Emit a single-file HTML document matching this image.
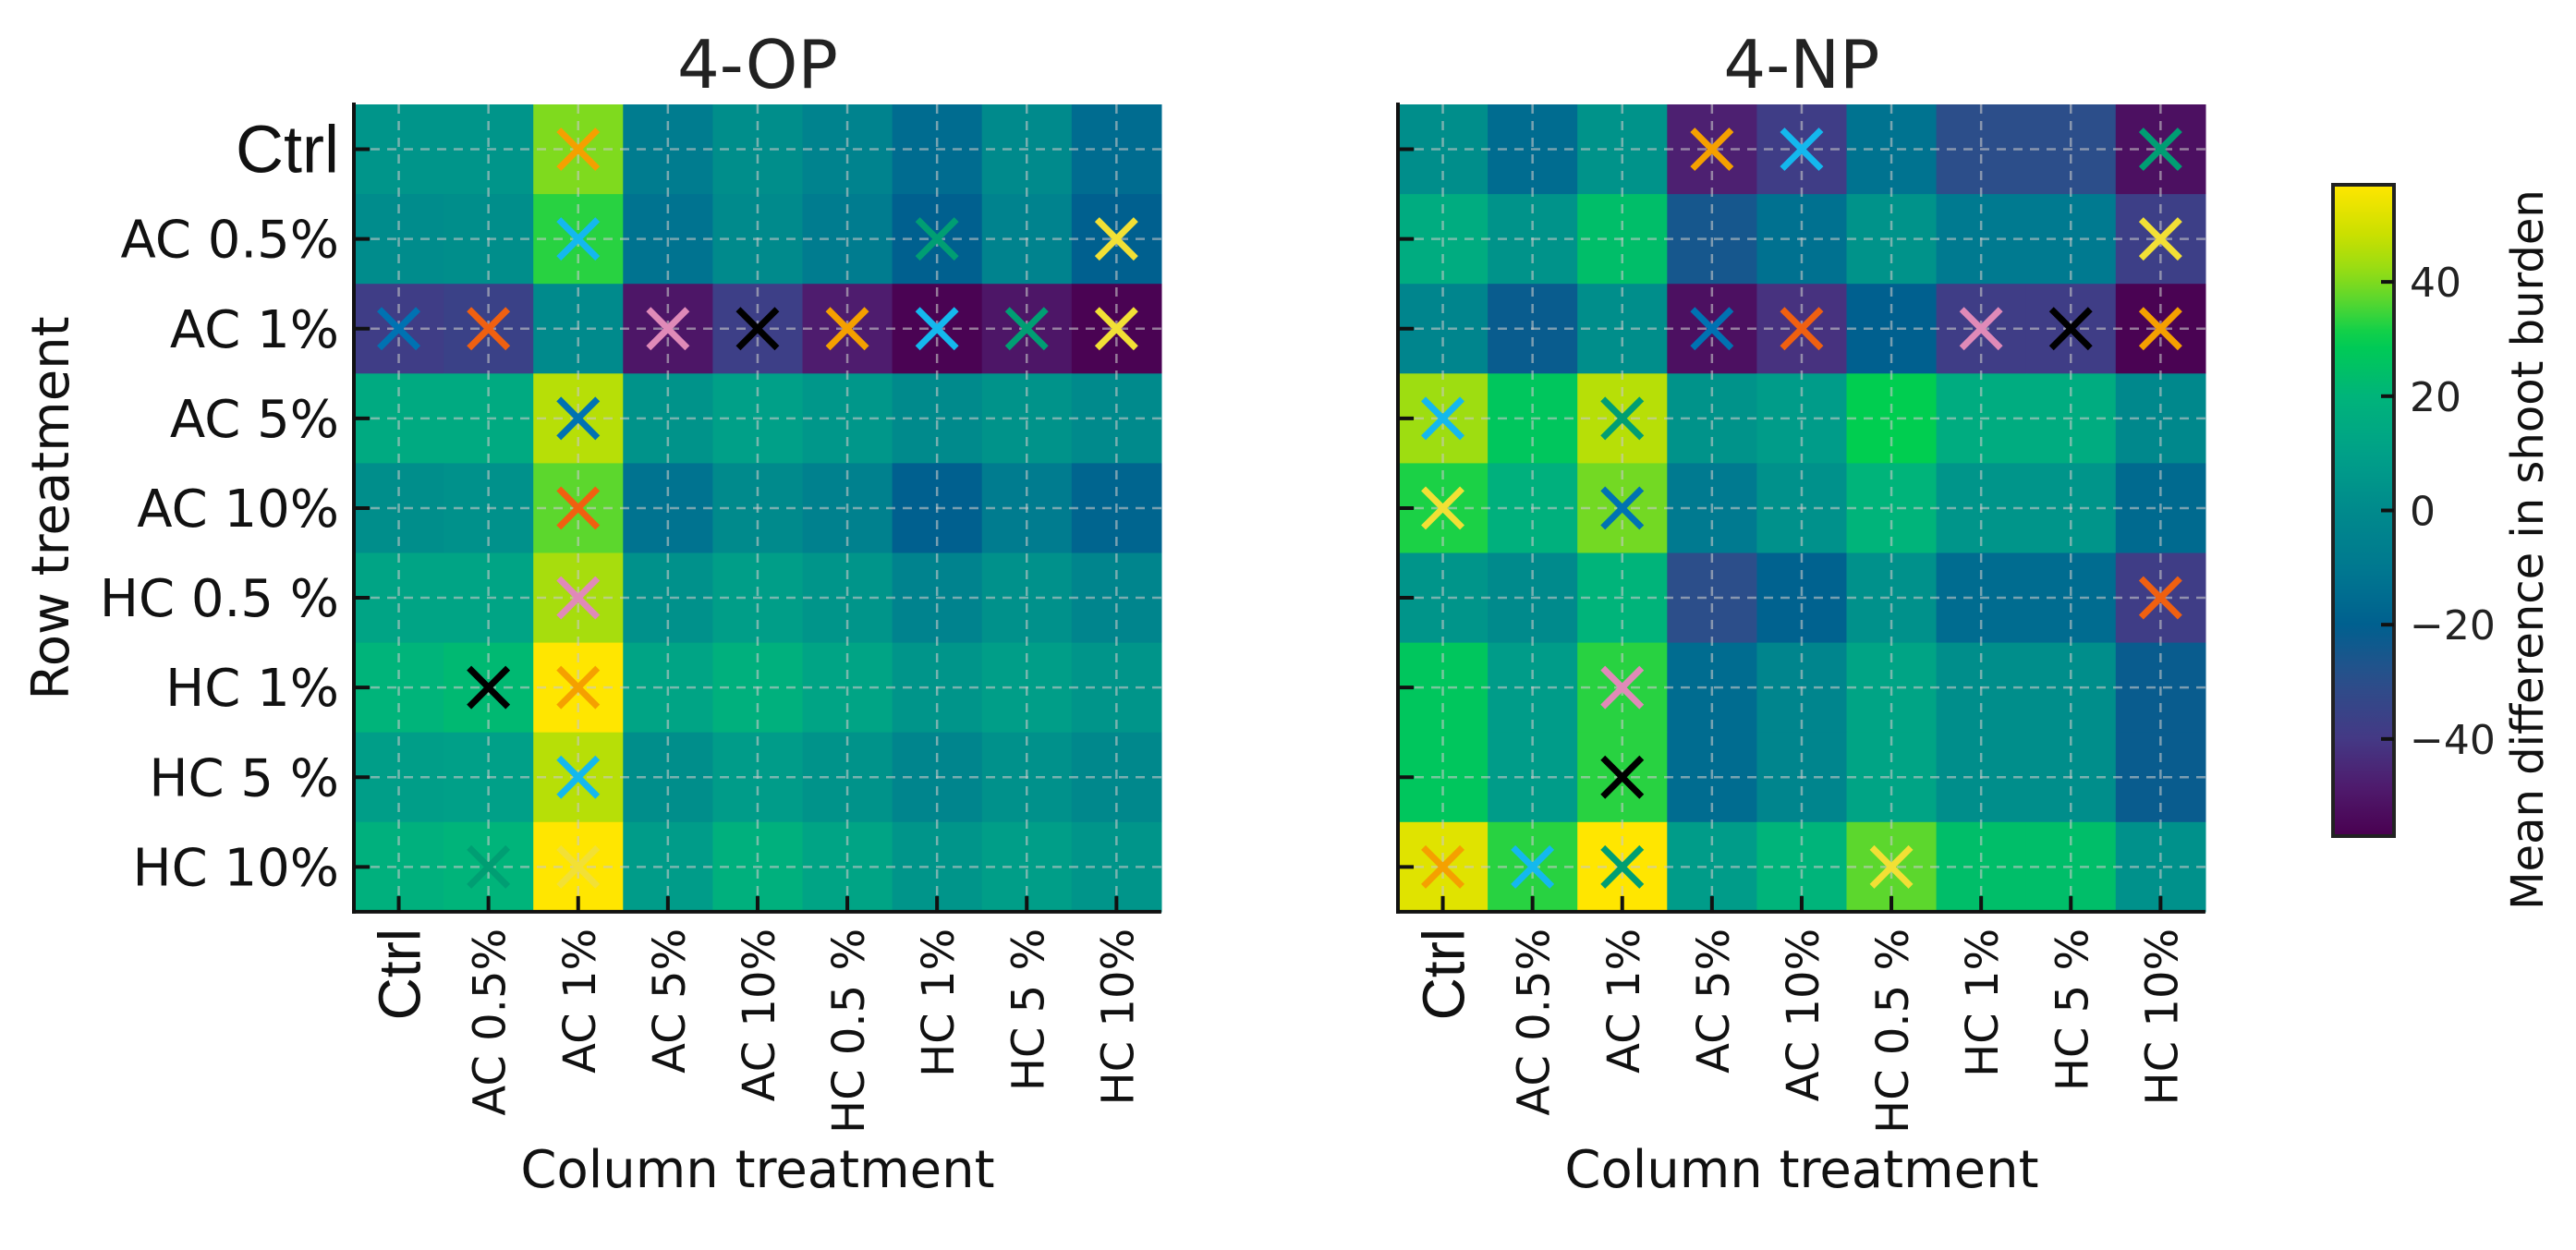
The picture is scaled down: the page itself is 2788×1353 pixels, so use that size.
<!DOCTYPE html>
<html><head><meta charset="utf-8"><style>
html,body{margin:0;padding:0;background:#fff;}
svg{display:block;font-family:"DejaVu Sans","Liberation Sans",sans-serif;}
</style></head><body>
<svg id="fig" width="2788" height="1353" viewBox="0 0 2788 1353" xmlns="http://www.w3.org/2000/svg"></svg>
<script>
const labels = ["Ctrl","AC 0.5%","AC 1%","AC 5%","AC 10%","HC 0.5 %","HC 1%","HC 5 %","HC 10%"];
const xlabels = ["Ctrl","AC 0.5%","AC 1%","AC 5%","AC 10%","HC 0.5 %","HC 1%","HC 5 %","HC 10%"];
const valuesOP = [
 [5,5,40,-8,2,-4,-15,0,-15],
 [1,2,33,-12,0,-8,-20,-4,-20],
 [-38,-36,0,-50,-37,-48,-56,-50,-56],
 [15,15,46,4,10,6,0,4,0],
 [2,3,37,-12,0,-5,-20,-8,-18],
 [12,12,44,3,9,5,-4,3,-3],
 [20,22,57,12,18,12,5,9,5],
 [9,10,46,2,8,4,-3,3,-1],
 [18,20,57,8,18,12,5,9,5]
];
const valuesNP = [
 [2,-15,4,-47,-38,-12,-30,-30,-52],
 [16,4,24,-25,-13,4,-9,-9,-37],
 [-3,-22,2,-52,-42,-20,-38,-38,-56],
 [43,27,46,4,8,30,16,16,-1],
 [32,18,39,-9,3,20,5,5,-16],
 [5,0,20,-30,-19,3,-15,-15,-38],
 [27,8,33,-15,-3,12,2,2,-22],
 [27,8,33,-15,-3,12,2,2,-22],
 [52,33,57,8,20,37,24,24,3]
];
const markersOP = [[0,2,"o"],[1,2,"c"],[1,6,"g"],[1,8,"y"],[2,0,"b"],[2,1,"v"],[2,3,"p"],[2,4,"k"],[2,5,"o"],[2,6,"c"],[2,7,"g"],[2,8,"y"],[3,2,"b"],[4,2,"v"],[5,2,"p"],[6,1,"k"],[6,2,"o"],[7,2,"c"],[8,1,"g"],[8,2,"y"]];
const markersNP = [[0,3,"o"],[0,4,"c"],[0,8,"g"],[1,8,"y"],[2,3,"b"],[2,4,"v"],[2,6,"p"],[2,7,"k"],[2,8,"o"],[3,0,"c"],[3,2,"g"],[4,0,"y"],[4,2,"b"],[5,8,"v"],[6,2,"p"],[7,2,"k"],[8,0,"o"],[8,1,"c"],[8,2,"g"],[8,5,"y"]];
const cbTicks = [40,20,0,-20,-40];
const vmin=-57, vmax=57;

const mcol={o:"#f5a000",c:"#14b8ee",g:"#009e73",y:"#f2e035",b:"#0072b2",v:"#f06010",p:"#e08ab8",k:"#000000"};
const stops=[[-57,[74,0,80]],[-48,[78,28,110]],[-40,[68,57,133]],[-30,[44,78,138]],[-20,[0,96,143]],[-10,[0,120,144]],[0,[0,138,140]],[10,[0,160,136]],[20,[0,180,122]],[30,[0,206,80]],[36,[80,214,50]],[42,[150,220,20]],[48,[200,224,0]],[57,[255,230,0]]];
function cmap(v){
  v=Math.max(vmin,Math.min(vmax,v));
  for(let i=0;i<stops.length-1;i++){
    const a=stops[i],b=stops[i+1];
    if(v<=b[0]){const t=(v-a[0])/(b[0]-a[0]);
      const c=a[1].map((x,j)=>Math.round(x+(b[1][j]-x)*t));
      return `rgb(${c[0]},${c[1]},${c[2]})`;}
  }
  return "rgb(255,230,0)";
}
const NS="http://www.w3.org/2000/svg";
const svg=document.getElementById("fig");
function el(tag,attrs,parent){const e=document.createElementNS(NS,tag);for(const k in attrs)e.setAttribute(k,attrs[k]);(parent||svg).appendChild(e);return e;}

const top0=113, cell=97.1, n=9;
function drawPanel(x0,values,markers,title,showY,key){
  const g=el("g",{});
  
  
  const xs=c=>x0+c*cell, ys=r=>top0+r*cell;
  values.forEach((row,r)=>row.forEach((v,c)=>{
    const rc=el("rect",{x:xs(c),y:ys(r),width:cell+0.6,height:cell+0.6,fill:cmap(v)},g);
    
    
  }));
  for(let i=0;i<n;i++){
    const cx=xs(i)+cell/2;
    const gl=el("line",{x1:cx,y1:top0,x2:cx,y2:top0+n*cell,stroke:"#c8c8c8","stroke-opacity":0.6,"stroke-width":2.5,"stroke-dasharray":"10,8"},g);
    
    
    const cy=ys(i)+cell/2;
    const gh=el("line",{x1:x0,y1:cy,x2:x0+n*cell,y2:cy,stroke:"#c8c8c8","stroke-opacity":0.6,"stroke-width":2.5,"stroke-dasharray":"10,8"},g);
    
    
  }
  markers.forEach(m=>{
    const cx=xs(m[1])+cell/2, cy=ys(m[0])+cell/2, s=21;
    const mk=el("path",{d:`M${cx-s},${cy-s}L${cx+s},${cy+s}M${cx-s},${cy+s}L${cx+s},${cy-s}`,stroke:mcol[m[2]],"stroke-width":7,"stroke-linecap":"butt",fill:"none"},g);
    
    
  });
  const ls=el("line",{x1:x0,y1:top0-2,x2:x0,y2:top0+n*cell+2,stroke:"#111","stroke-width":4},g);
  
  
  const bs=el("line",{x1:x0-2,y1:top0+n*cell,x2:x0+n*cell,y2:top0+n*cell,stroke:"#111","stroke-width":4},g);
  
  
  for(let i=0;i<n;i++){
    const cy=ys(i)+cell/2, cx=xs(i)+cell/2;
    el("line",{x1:x0,y1:cy,x2:x0+17,y2:cy,stroke:"#111","stroke-width":4},g);
    el("line",{x1:cx,y1:top0+n*cell,x2:cx,y2:top0+n*cell-17,stroke:"#111","stroke-width":4},g);
    if(showY){
      const t=el("text",{x:x0-16,y:cy+(i==0?25:20),"text-anchor":"end","font-size":i==0?72:56,fill:"#111","font-family":i==0?"Liberation Sans, sans-serif":"DejaVu Sans, sans-serif"},g);
      t.textContent=labels[i];
      
      
    }
    const tx=el("text",{x:0,y:0,"text-anchor":"end","font-size":i==0?64:48,fill:"#111","font-family":i==0?"Liberation Sans, sans-serif":"DejaVu Sans, sans-serif",transform:`translate(${cx+(i==0?23:18)},${top0+n*cell+18}) rotate(-90)`},g);
    tx.textContent=xlabels[i];
    
    
  }
  const tt=el("text",{x:x0+n*cell/2,y:95,"text-anchor":"middle","font-size":72,fill:"#222"},g);
  tt.textContent=title;
  
  
  const xl=el("text",{x:x0+n*cell/2,y:1285,"text-anchor":"middle","font-size":56,fill:"#111"},g);
  xl.textContent="Column treatment";
  
  
}
drawPanel(383,valuesOP,markersOP,"4-OP",true,"op");
drawPanel(1513,valuesNP,markersNP,"4-NP",false,"np");

const yl=el("text",{x:0,y:0,"text-anchor":"middle","font-size":56,fill:"#111",transform:"translate(74,550) rotate(-90)"});
yl.textContent="Row treatment";



const cbx=2525, cbw=66, cbt=200, cbb=905;
const cy=v=>cbb-(v-vmin)/(vmax-vmin)*(cbb-cbt);
const defs=el("defs",{});
const lg=el("linearGradient",{id:"cbg",x1:0,y1:1,x2:0,y2:0},defs);
for(let i=0;i<=40;i++){const v=vmin+(vmax-vmin)*i/40;el("stop",{offset:(i/40),"stop-color":cmap(v)},lg);}
const cb=el("rect",{x:cbx,y:cbt,width:cbw,height:cbb-cbt,fill:"url(#cbg)",stroke:"#222","stroke-width":4});


cbTicks.forEach(v=>{
  el("line",{x1:cbx+cbw-14,y1:cy(v),x2:cbx+cbw,y2:cy(v),stroke:"#111","stroke-width":4});
  const t=el("text",{x:2608,y:cy(v)+16,"font-size":44,fill:"#222"});
  t.textContent=(v<0?"\u2212":"")+Math.abs(v);
  
  
});
const cl=el("text",{x:0,y:0,"text-anchor":"middle","font-size":48,fill:"#111",transform:"translate(2752,595) rotate(-90)"});
cl.textContent="Mean difference in shoot burden";


</script>
</body></html>
